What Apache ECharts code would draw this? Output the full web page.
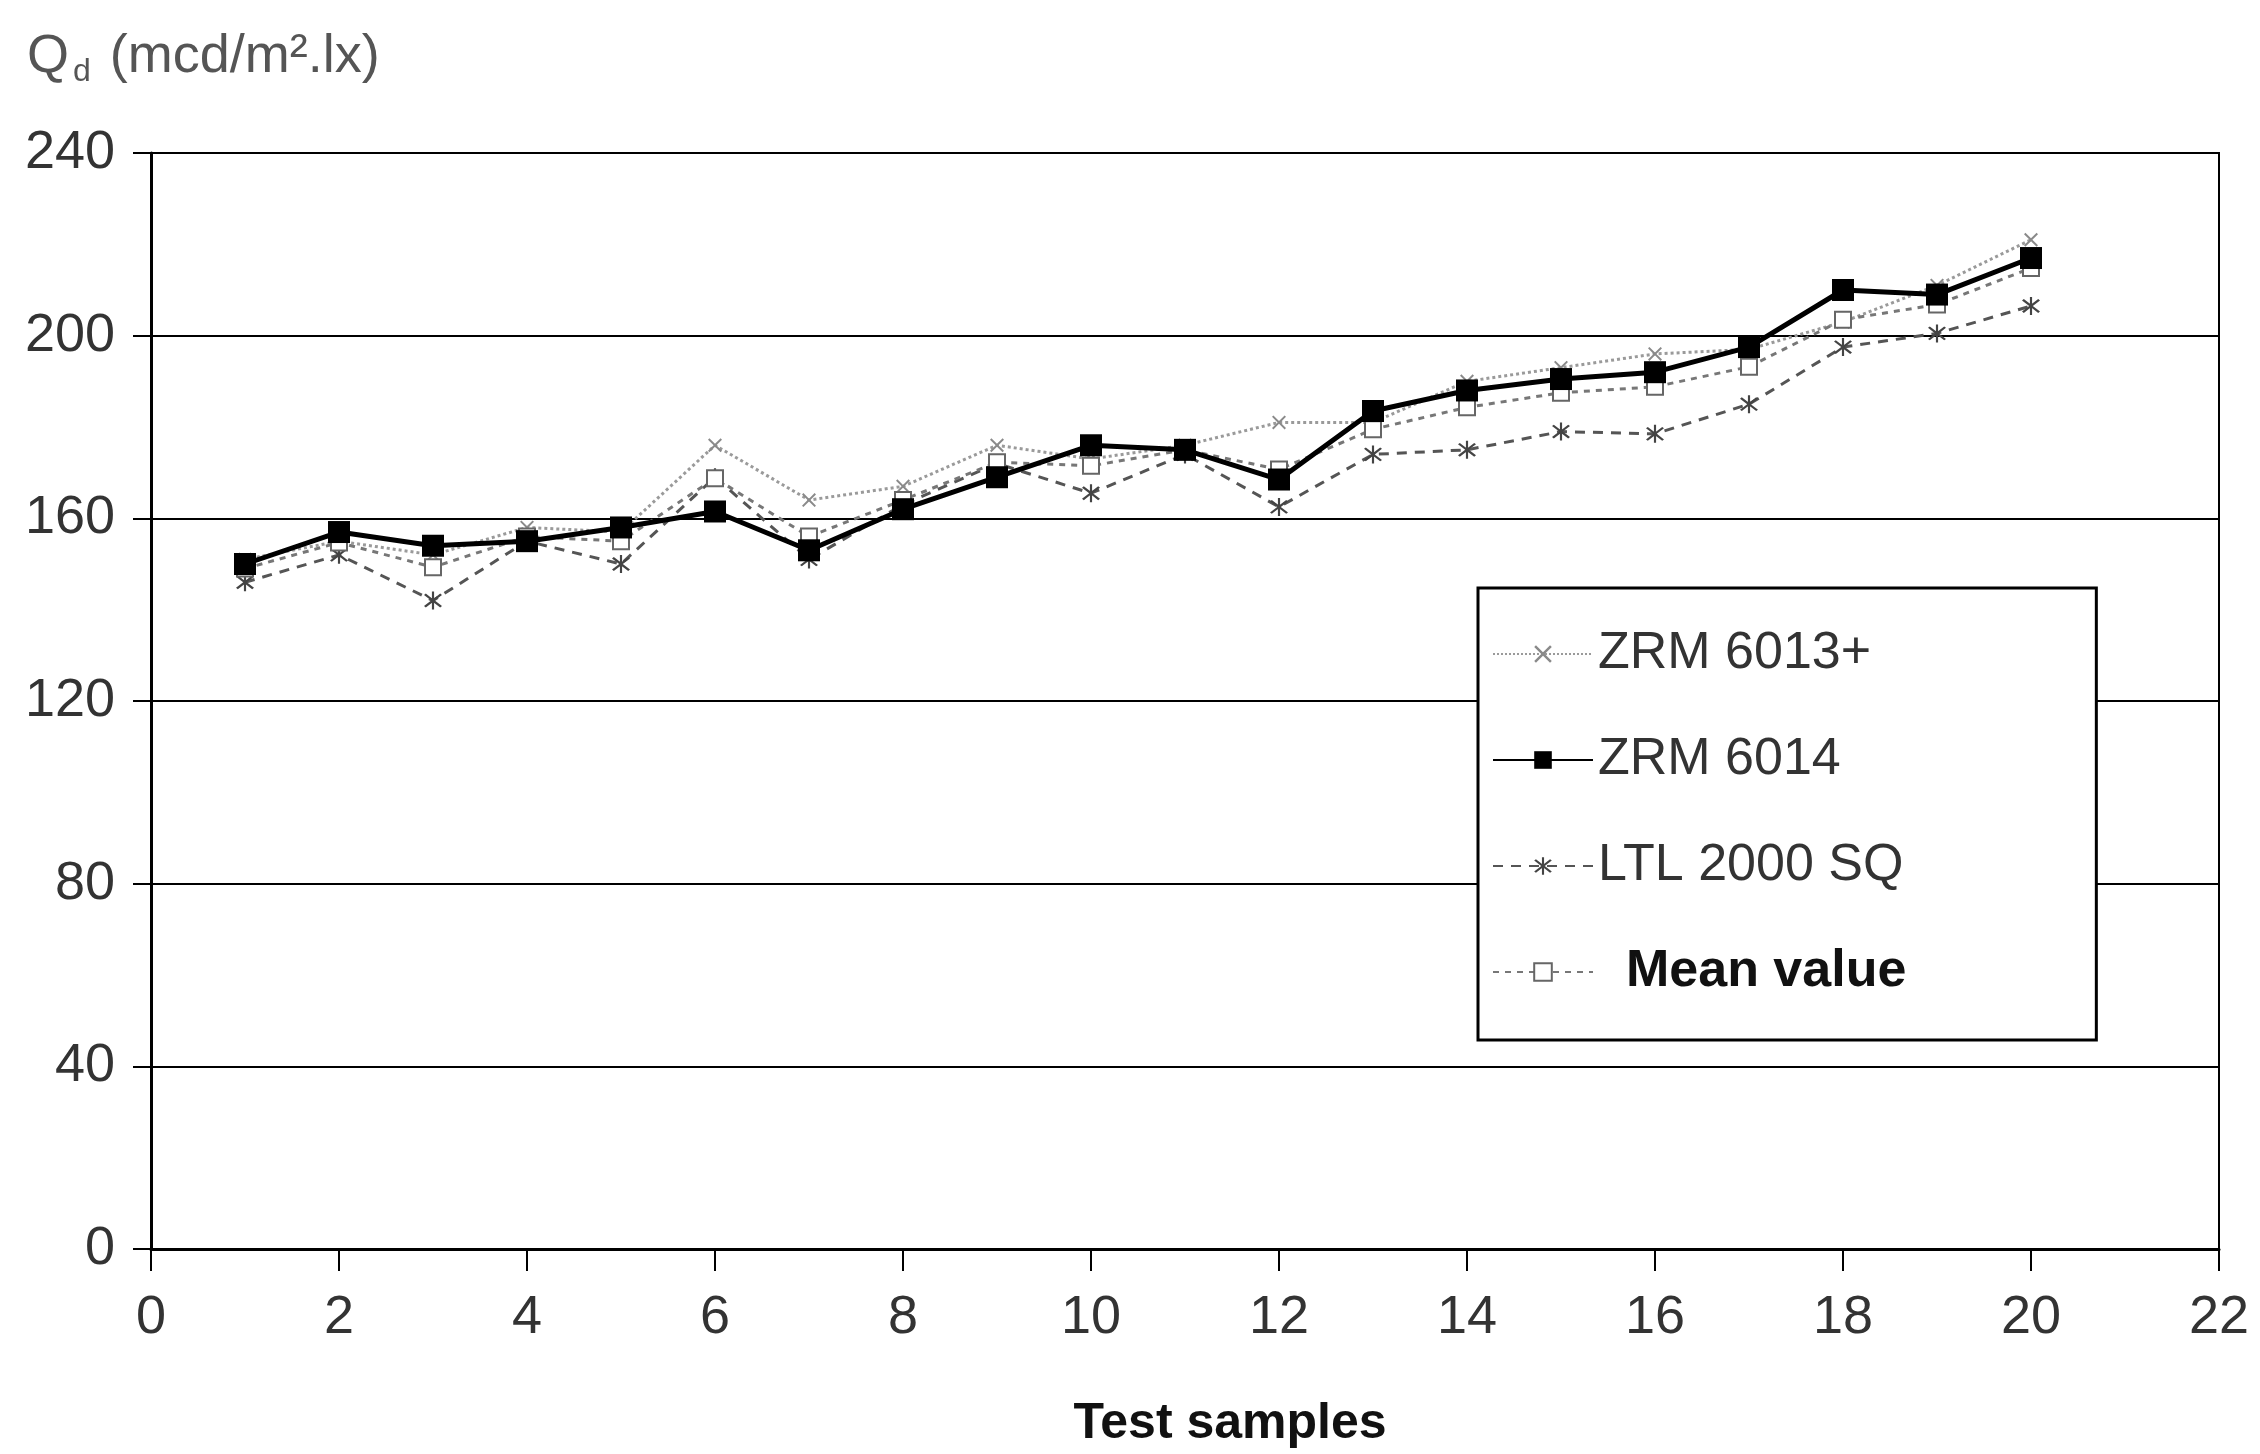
<!DOCTYPE html>
<html>
<head>
<meta charset="utf-8">
<script src="https://cdn.jsdelivr.net/npm/echarts@6/dist/echarts.min.js"></script>
<style>
html,body{margin:0;padding:0;background:#fff;}
#chart{width:2260px;height:1454px;}
</style>
</head>
<body>
<div id="chart"></div>
<script>
// Test samples 1..20
const samples = [1,2,3,4,5,6,7,8,9,10,11,12,13,14,15,16,17,18,19,20];
const zrm6013 = [151,155,152,158,157,176,164,167,176,173,176,181,181,190,193,196,197,203,211,221];
const zrm6014 = [150,157,154,155,158,161.5,153,162,169,176,175,168.5,183.5,188,190.5,192,197.5,210,209,217];
const ltl2000 = [146,152,142,155,150,169,151,163,172,165.5,174,162.5,174,175,179,178.5,185,197.5,200.5,206.5];
const meanVal = [149,154.7,149.3,156,155,168.8,156,164,172.3,171.5,175,170.7,179.5,184.3,187.5,188.8,193.2,203.5,206.8,214.8];
const seriesNames = ['ZRM 6013+','ZRM 6014','LTL 2000 SQ','Mean value'];
const xTicks = {min:0, max:22, interval:2};
const yTicks = {min:0, max:240, interval:40};

function pairs(vals){ return samples.map((s,i)=>[s, vals[i]]); }

const crossPath = 'path://M1,0L5,4L9,0L10,1L6,5L10,9L9,10L5,6L1,10L0,9L4,5L0,1Z';
const starPath = 'path://M1,0L5,4L9,0L10,1L6,5L10,9L9,10L5,6L1,10L0,9L4,5L0,1Z M4.4,-1.5L5.6,-1.5L5.6,11.5L4.4,11.5Z';

const FONT = 'Liberation Sans, Arial, sans-serif';
const chart = echarts.init(document.getElementById('chart'), null, {renderer:'canvas'});
chart.setOption({
  backgroundColor:'#fff',
  animation:false,
  title:{
    left:22, top:20,
    text:'{a|Q}{s|d}{a| (mcd/m².lx)}',
    textStyle:{
      fontWeight:'normal',
      rich:{
        a:{fontFamily:FONT, fontSize:54, fontWeight:'normal', color:'#555', lineHeight:64},
        s:{fontFamily:FONT, fontSize:32, fontWeight:'normal', color:'#555', lineHeight:64, padding:[30,4,0,4]}
      }
    }
  },
  grid:{left:151, right:41, top:153, bottom:204, show:true, borderColor:'#000', borderWidth:2, backgroundColor:'transparent'},
  legend:{
    orient:'vertical',
    left:1478, top:588,
    data:seriesNames,
    itemWidth:100, itemHeight:22, itemGap:54,
    padding:[40,190,42,14],
    borderColor:'#000', borderWidth:3,
    backgroundColor:'#fff',
    textStyle:{fontFamily:FONT, fontSize:52, color:'#333',
      rich:{m:{fontFamily:FONT, fontSize:52, fontWeight:'bold', color:'#111', padding:[0,0,0,28]}}},
    formatter:function(n){ return n==='Mean value' ? '{m|'+n+'}' : n; }
  },
  xAxis:{
    type:'value', min:xTicks.min, max:xTicks.max, interval:xTicks.interval,
    name:'Test samples', nameLocation:'middle', nameGap:150,
    nameTextStyle:{fontFamily:FONT, fontSize:50, fontWeight:'bold', color:'#111', padding:[0,0,0,90]},
    axisLine:{show:true, lineStyle:{color:'#000', width:3}},
    axisTick:{show:true, inside:false, length:22, lineStyle:{color:'#000', width:2}},
    axisLabel:{fontFamily:FONT, fontSize:54, color:'#333', margin:42},
    splitLine:{show:false}
  },
  yAxis:{
    type:'value', min:yTicks.min, max:yTicks.max, interval:yTicks.interval,
    axisLine:{show:true, lineStyle:{color:'#000', width:3}},
    axisTick:{show:true, length:18, lineStyle:{color:'#000', width:2}},
    axisLabel:{fontFamily:FONT, fontSize:54, color:'#333', margin:36},
    splitLine:{show:true, lineStyle:{color:'#000', width:2}}
  },
  series:[
    {name:seriesNames[0], type:'line', data:pairs(zrm6013), z:2,
     symbol:crossPath, symbolSize:14,
     lineStyle:{color:'#9a9a9a', width:3, type:'dotted'},
     itemStyle:{color:'#8a8a8a'}},
    {name:seriesNames[1], type:'line', data:pairs(zrm6014), z:5,
     symbol:'rect', symbolSize:22,
     lineStyle:{color:'#000', width:5},
     itemStyle:{color:'#000'}},
    {name:seriesNames[2], type:'line', data:pairs(ltl2000), z:3,
     symbol:starPath, symbolSize:18,
     lineStyle:{color:'#555', width:3, type:[10,8]},
     itemStyle:{color:'#444'}},
    {name:seriesNames[3], type:'line', data:pairs(meanVal), z:4,
     symbol:'emptyRect', symbolSize:16,
     lineStyle:{color:'#777', width:3, type:[6,6]},
     itemStyle:{color:'#666', borderWidth:3}}
  ]
});
</script>
</body>
</html>
